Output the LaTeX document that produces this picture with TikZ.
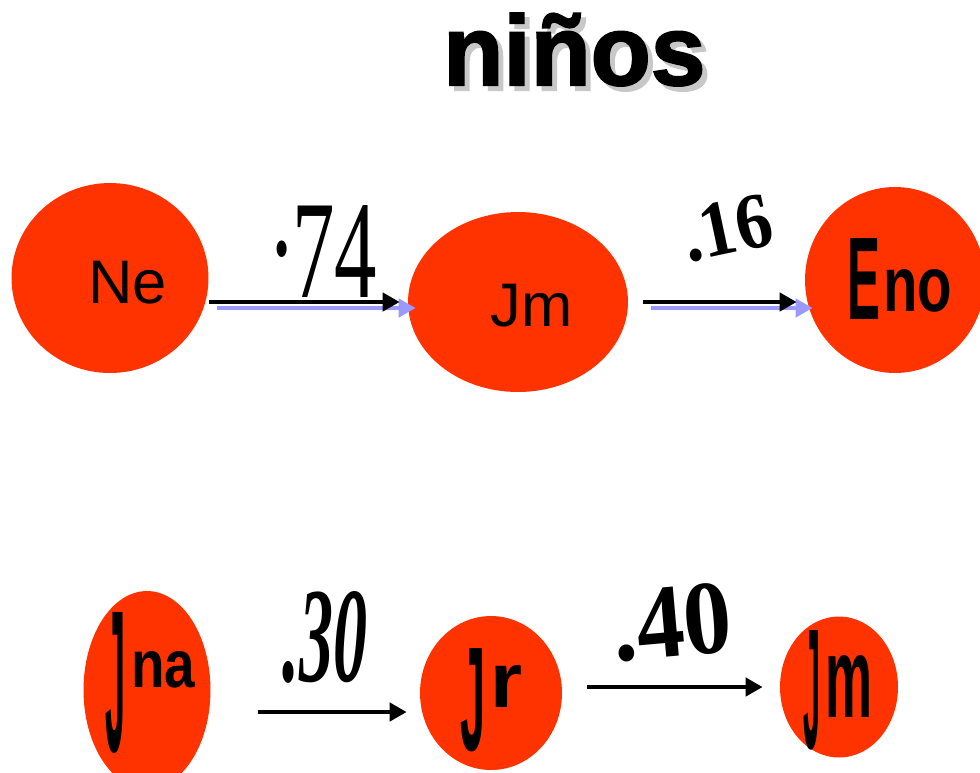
\documentclass[tikz,border=0pt]{standalone}
\usepackage{fontspec}
\setmainfont{Liberation Sans}
\newfontfamily\serifa{Liberation Serif}
\newfontfamily\gruesa[FakeBold=2]{Liberation Sans Bold}
\usetikzlibrary{shapes.geometric, arrows.meta}
\definecolor{rojo}{HTML}{FF3300}
\definecolor{azul}{HTML}{9999FF}
\definecolor{gris}{HTML}{C8C8C8}
\tikzset{
  estado/.style={ellipse, fill=rojo, inner sep=0pt},
  texto/.style={inner sep=0pt, anchor=base west},
  flecha/.style={line width=2.8pt, -{Triangle[length=0.34cm, width=0.36cm]}},
  sombra/.style={flecha, draw=azul, transform canvas={shift={(0.16cm,-0.12cm)}}},
  peso/.style={inner sep=0pt, font=\serifa}
}
% letra J alargada: ancho, alto, bajada
\newcommand{\jota}[3]{\raisebox{-#3}{\resizebox{#1}{#2}{\bfseries J}}}
\newcommand{\chica}[3]{\resizebox{#1}{#2}{\bfseries #3}}
\newcommand{\titulo}[1]{\rlap{\hspace{0.1cm}\raisebox{-0.1cm}{\color{gris}#1}}#1}
\begin{document}
\begin{tikzpicture}[x=0.02cm, y=-0.02cm, line cap=butt, >=stealth]
  \useasboundingbox (0,0) rectangle (980,772);
  % titulo
  \node[texto] (titulo) at (443,85) {\titulo{\resizebox{5.24cm}{1.44cm}{\gruesa niños}}};
  % fila de arriba
  \node[estado, minimum width=3.94cm, minimum height=3.8cm] (ne) at (110,278) {};
  \node[estado, minimum width=4.4cm, minimum height=3.6cm] (jm) at (518,302) {};
  \node[estado, minimum width=3.6cm, minimum height=3.72cm] (eno) at (895,280) {};
  \node[texto] (tne) at (88,303) {\fontsize{35}{35}\selectfont Ne};
  \node[texto] (tjm) at (490,326) {\fontsize{35}{35}\selectfont Jm};
  \node[texto] (teno) at (847,311) {\raisebox{-0.16cm}{\resizebox{0.66cm}{1.62cm}{\bfseries E}}\hspace{0.06cm}\chica{1.38cm}{0.84cm}{no}};
  \draw[sombra] (ne.east |- jm.west) -- (jm.west);
  \draw[flecha, shorten >=0.16cm] (ne.east |- jm.west) -- (jm.west);
  \draw[sombra, shorten <=0.3cm] (jm.east) -- (jm.east -| eno.west);
  \draw[flecha, shorten <=0.3cm, shorten >=0.16cm] (jm.east) -- (jm.east -| eno.west);
  \node[peso, anchor=base west] (p74) at (271,297) {\resizebox{2.12cm}{1.84cm}{\raisebox{0.3em}{.}74}};
  \node[peso, rotate=12] (p16) at (727,228) {\resizebox{1.8cm}{1.05cm}{\bfseries .16}};
  % fila de abajo
  \node[estado, minimum width=2.54cm, minimum height=3.96cm] (jna) at (147,690) {};
  \node[estado, minimum width=2.84cm, minimum height=3.08cm] (jr) at (491,693) {};
  \node[estado, minimum width=2.36cm, minimum height=2.82cm] (jmb) at (839,687) {};
  \node[texto] (tjna) at (105,687) {\jota{0.4cm}{2.78cm}{1.3cm}\hspace{0.12cm}\chica{1.28cm}{0.72cm}{na}};
  \node[texto] (tjr) at (460,707) {\jota{0.5cm}{2.04cm}{0.86cm}\hspace{0.1cm}\chica{0.64cm}{0.84cm}{r}};
  \node[texto] (tjmb) at (803,717) {\jota{0.34cm}{2.36cm}{0.62cm}\hspace{0.1cm}\chica{0.94cm}{1.24cm}{m}};
  \draw[flecha] ([shift={(47,22)}]jna.east) -- ([shift={(-13,19)}]jr.west);
  \draw[flecha] ([shift={(25,-6)}]jr.east) -- ([shift={(-17,0)}]jmb.west);
  \node[peso] (p30) at (325,637) {\resizebox{1.7cm}{1.8cm}{\itshape\bfseries .30}};
  \node[peso, rotate=5] (p40) at (672,622) {\resizebox{2.4cm}{1.4cm}{\bfseries .40}};
\end{tikzpicture}
\end{document}
